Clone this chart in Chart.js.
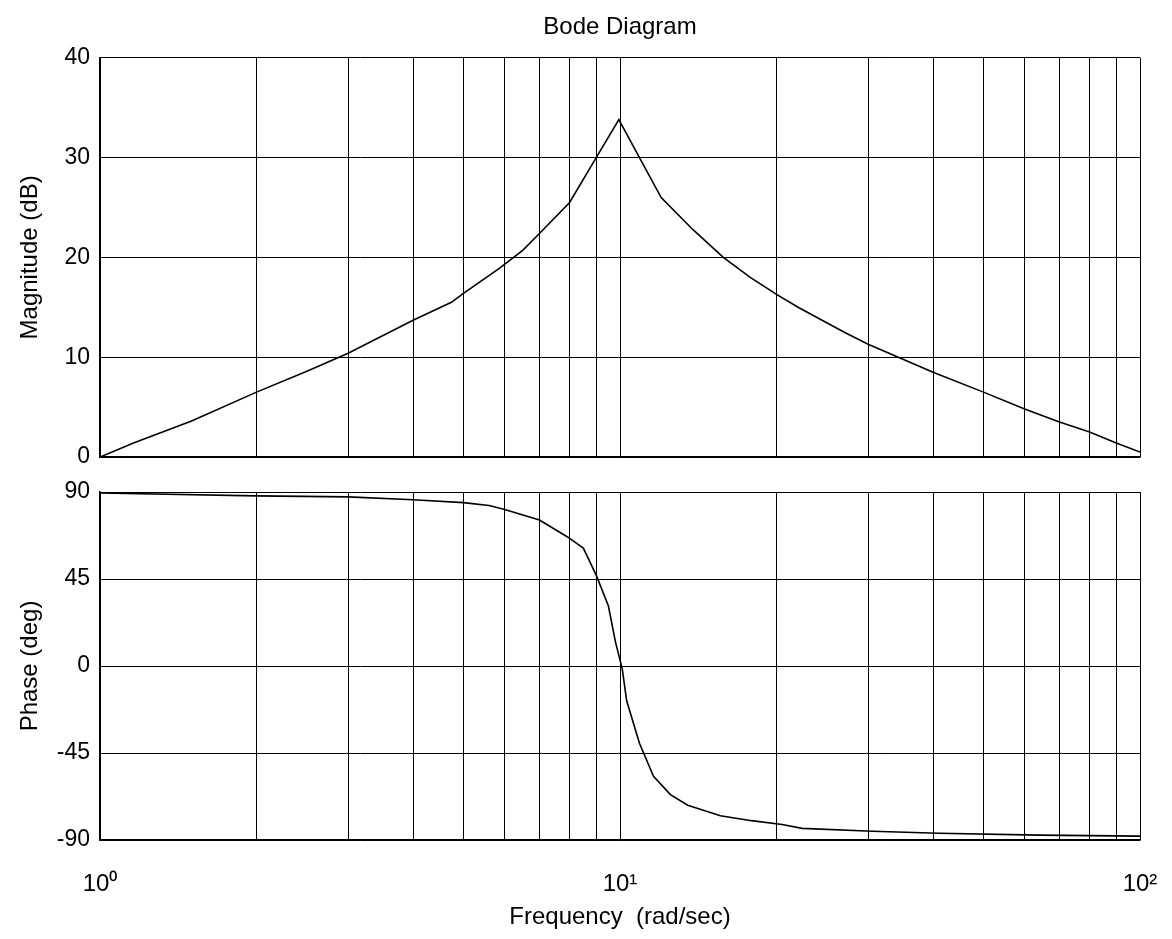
<!DOCTYPE html>
<html>
<head>
<meta charset="utf-8">
<title>Bode Diagram</title>
<script src="https://cdn.jsdelivr.net/npm/chart.js@4.4.1/dist/chart.umd.min.js"></script>
<style>
    body { margin: 0; background: #fff; }
    #wrap { position: relative; width: 1172px; height: 939px; }
    .box { position: absolute; left: 0; width: 1172px; }
    #magBox { top: 0; height: 470px; }
    #phaseBox { top: 470px; height: 469px; }
</style>
</head>
<body>
<div id="wrap">
    <div class="box" id="magBox"><canvas id="magChart"></canvas></div>
    <div class="box" id="phaseBox"><canvas id="phaseChart"></canvas></div>
</div>
<script>
// 幅频特性 (rad/sec, dB)
const magFreq = [1, 1.16, 1.5, 2, 2.5, 3, 4, 4.74, 5, 5.86, 6.5, 7, 8, 9, 9.95, 10.9, 12, 13.8, 15.8, 17.8, 20, 22, 27, 30, 33.6, 40, 50, 60, 70, 80, 90, 100];
const magDb   = [0, 1.4, 3.6, 6.5, 8.6, 10.4, 13.7, 15.5, 16.4, 18.9, 20.7, 22.4, 25.5, 30, 33.8, 30, 26, 22.8, 20, 18, 16.3, 15, 12.5, 11.3, 10.2, 8.5, 6.5, 4.8, 3.5, 2.5, 1.4, 0.5];

// 相频特性 (rad/sec, deg)
const phaseFreq = [1, 2, 3, 4, 5, 5.6, 6, 7, 7.9, 8.5, 9, 9.5, 9.8, 10.1, 10.3, 10.9, 11.6, 12.5, 13.5, 15.6, 17.9, 20.5, 22.4, 30.6, 41, 64, 100];
const phaseDeg  = [89.5, 88, 87.5, 86, 84.5, 83, 81, 75.5, 67, 61, 47, 31, 12.5, -1.5, -18, -40, -57, -66.5, -72, -77.5, -80, -82, -84, -85.5, -86.5, -87.5, -88];

// 对数坐标网格
const freqTicks = [1, 2, 3, 4, 5, 6, 7, 8, 9, 10, 20, 30, 40, 50, 60, 70, 80, 90, 100];
const freqLabels = { 1: "10\u2070", 10: "10\u00B9", 100: "10\u00B2" };
const magTicks = [0, 10, 20, 30, 40];
const phaseTicks = [-90, -45, 0, 45, 90];

const FONT = "'Liberation Sans', Arial, sans-serif";

function toPoints(xs, ys) {
    return xs.map((x, i) => ({ x: x, y: ys[i] }));
}

function fixTicks(values) {
    return scale => { scale.ticks = values.map(v => ({ value: v })); };
}

function xScale(showLabels) {
    return {
        type: "logarithmic",
        min: 1,
        max: 100,
        afterBuildTicks: fixTicks(freqTicks),
        afterFit: scale => {
            scale.height = showLabels ? 99 : 13;
            scale.paddingLeft = 0;
            scale.paddingRight = 0;
        },
        grid: { color: "#000", lineWidth: 1, drawTicks: false },
        border: { color: "#000", width: 1.5 },
        ticks: {
            display: showLabels,
            autoSkip: false,
            maxRotation: 0,
            padding: 30,
            color: "#000",
            font: { family: FONT, size: 24 },
            callback: value => freqLabels[value] || ""
        },
        title: {
            display: showLabels,
            text: "Frequency  (rad/sec)",
            color: "#000",
            font: { family: FONT, size: 24 },
            padding: { top: 0, bottom: 7 }
        }
    };
}

function yScale(min, max, ticks, label) {
    return {
        min: min,
        max: max,
        afterBuildTicks: fixTicks(ticks),
        afterFit: scale => {
            scale.width = 100;
            scale.paddingTop = 0;
            scale.paddingBottom = 0;
        },
        grid: { color: "#000", lineWidth: 1, drawTicks: false },
        border: { color: "#000", width: 1.5 },
        ticks: {
            padding: 10,
            color: "#000",
            font: { family: FONT, size: 23 }
        },
        title: {
            display: true,
            text: label,
            color: "#000",
            font: { family: FONT, size: 24 },
            padding: { top: 16, bottom: 0 }
        }
    };
}

function makeChart(id, xs, ys, yOpts, opts) {
    const ctx = document.getElementById(id).getContext("2d");
    return new Chart(ctx, {
        type: "line",
        data: {
            datasets: [{
                data: toPoints(xs, ys),
                borderColor: "#000",
                borderWidth: 1.6,
                pointRadius: 0,
                tension: 0,
                fill: false
            }]
        },
        options: {
            responsive: true,
            maintainAspectRatio: false,
            animation: false,
            layout: { padding: opts.padding },
            plugins: {
                legend: { display: false },
                tooltip: { enabled: false },
                title: opts.title
            },
            scales: {
                x: xScale(opts.showX),
                y: yOpts
            }
        }
    });
}

makeChart("magChart", magFreq, magDb, yScale(0, 40, magTicks, "Magnitude (dB)"), {
    padding: { top: 0, right: 32, bottom: 0, left: 0 },
    showX: false,
    title: {
        display: true,
        text: "Bode Diagram",
        color: "#000",
        fullSize: false,
        font: { family: FONT, size: 24, weight: "normal" },
        padding: { top: 13, bottom: 16 }
    }
});

makeChart("phaseChart", phaseFreq, phaseDeg, yScale(-90, 90, phaseTicks, "Phase (deg)"), {
    padding: { top: 22, right: 32, bottom: 0, left: 0 },
    showX: true,
    title: { display: false }
});
</script>
</body>
</html>
